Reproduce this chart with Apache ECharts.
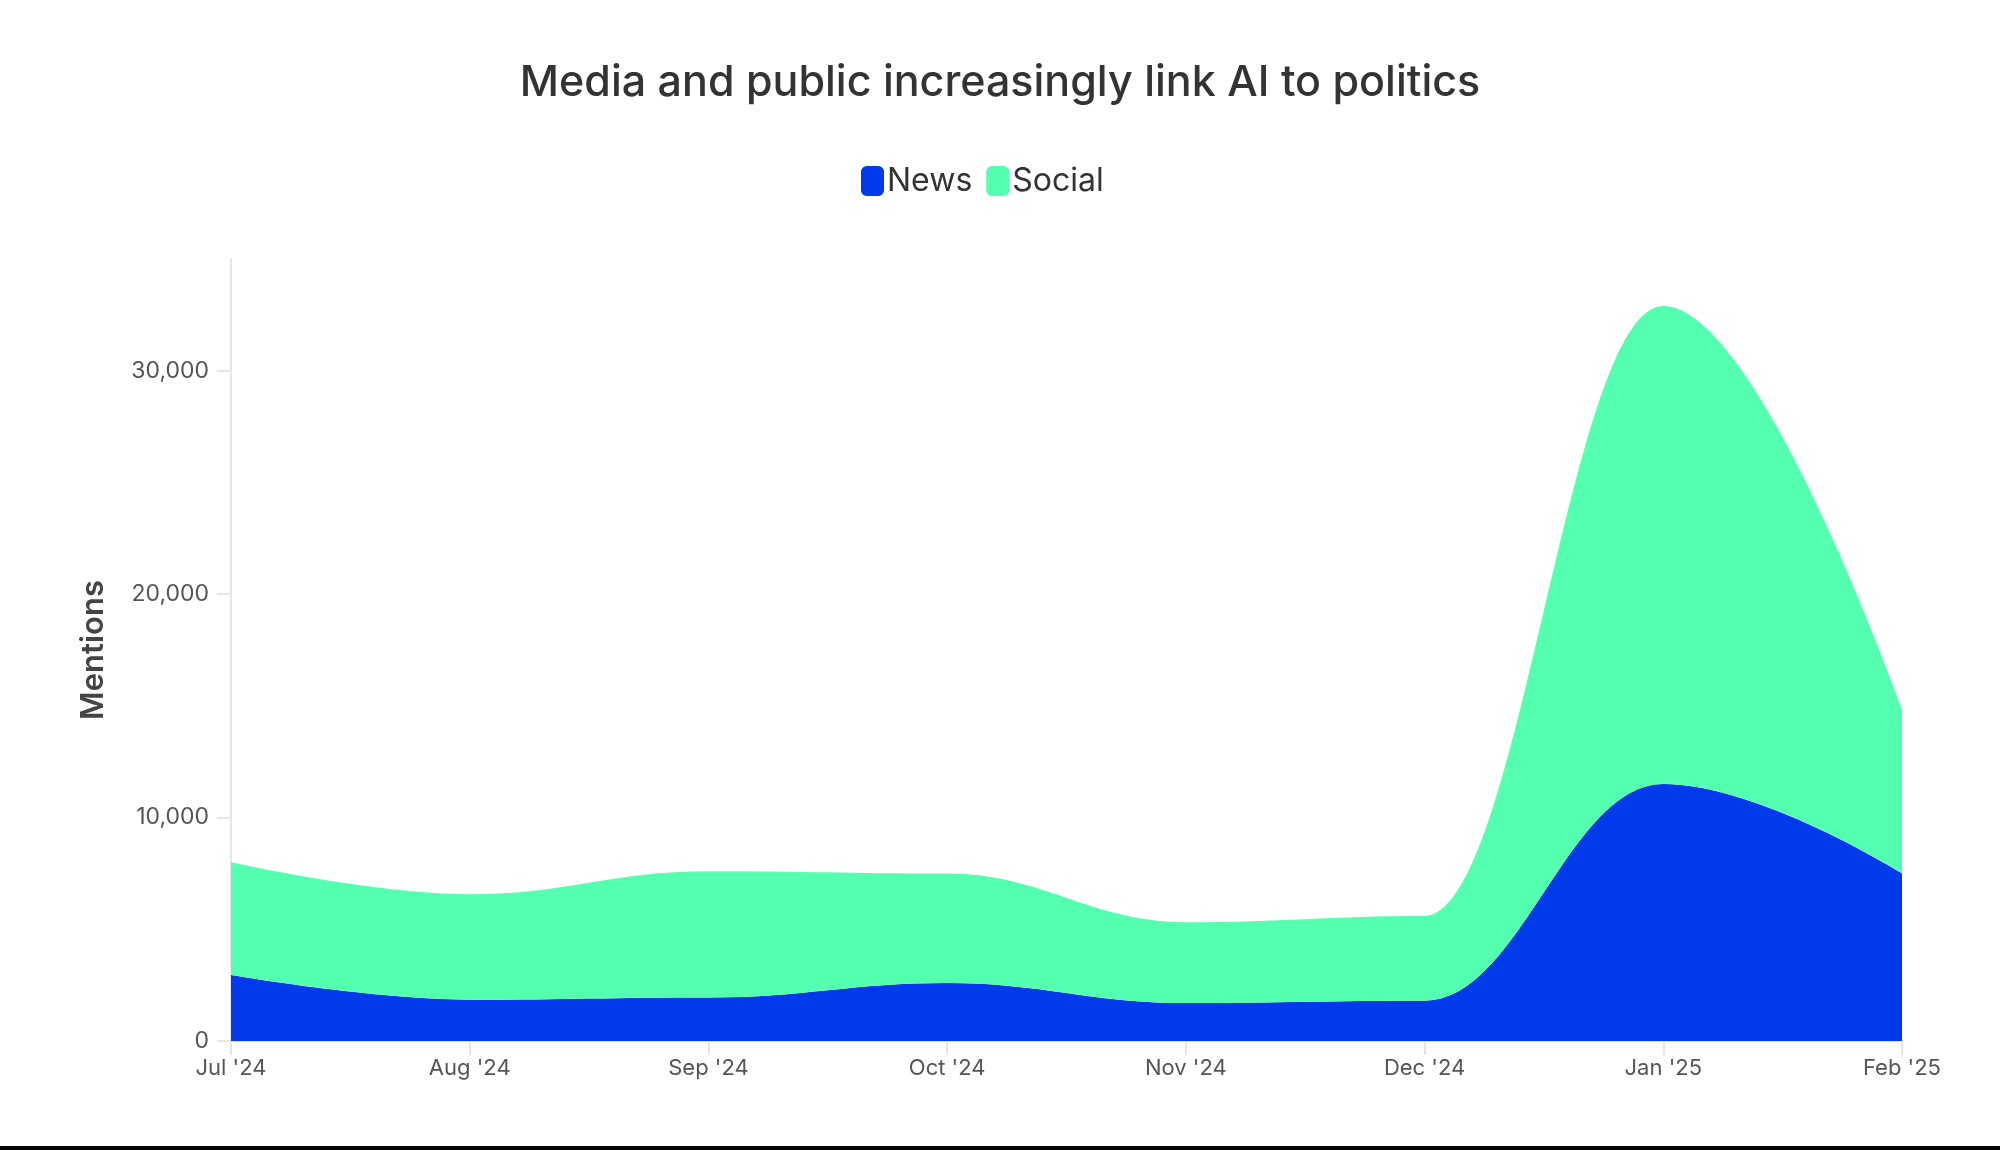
<!DOCTYPE html>
<html>
<head>
<meta charset="utf-8">
<script src="https://cdn.jsdelivr.net/npm/echarts@6/dist/echarts.min.js"></script>
<style>
  html, body { margin: 0; padding: 0; background: #fff; }
  #chart { width: 2000px; height: 1150px; }
</style>
</head>
<body>
<div id="chart"></div>
<script>
// months on the x axis
var months = ["Jul '24", "Aug '24", "Sep '24", "Oct '24", "Nov '24", "Dec '24", "Jan '25", "Feb '25"];
// mentions per month
var news = [2950, 1850, 1950, 2600, 1700, 1800, 11500, 7500];
var social = [5050, 4720, 5650, 4900, 3620, 3800, 21400, 7350];
// labelled y ticks
var yTicks = [0, 10000, 20000, 30000];

var chart = echarts.init(document.getElementById('chart'));
var font = 'Inter, "Noto Sans", sans-serif';

chart.setOption({
  backgroundColor: '#fff',
  animation: false,
  title: {
    text: 'Media and public increasingly link AI to politics',
    left: 'center',
    top: 57,
    textStyle: { fontFamily: font, fontSize: 43, fontWeight: 500, color: '#333' }
  },
  legend: {
    top: 160,
    left: 856,
    icon: 'roundRect',
    itemWidth: 23,
    itemHeight: 30,
    itemGap: 14,
    textStyle: { fontFamily: font, fontSize: 32, color: '#333', padding: [0, 0, 0, -2] },
    data: ['News', 'Social']
  },
  grid: { left: 231, right: 98, top: 259, bottom: 109 },
  xAxis: {
    type: 'category',
    data: months,
    boundaryGap: false,
    axisLine: { show: true, lineStyle: { color: '#e6e6e6', width: 2 } },
    axisTick: { show: true, length: 14, lineStyle: { color: '#e6e6e6', width: 2 } },
    axisLabel: { fontFamily: font, fontSize: 22, color: '#555', margin: 16 }
  },
  yAxis: {
    type: 'value',
    min: 0,
    max: 35000,
    interval: 10000,
    name: 'Mentions',
    nameLocation: 'middle',
    nameGap: 122,
    nameTextStyle: { fontFamily: font, fontSize: 31, fontWeight: 600, color: '#444' },
    splitLine: { show: false },
    axisLine: { show: true, lineStyle: { color: '#e6e6e6', width: 2 } },
    axisTick: { show: true, length: 14, customValues: yTicks, lineStyle: { color: '#e6e6e6', width: 2 } },
    axisLabel: {
      fontFamily: font, fontSize: 23, color: '#555', margin: 22,
      customValues: yTicks,
      formatter: function (v) { return v.toLocaleString('en-US'); }
    }
  },
  series: [
    {
      name: 'News',
      type: 'line',
      stack: 'total',
      data: news,
      smooth: 0.4,
      smoothMonotone: 'x',
      symbol: 'none',
      color: '#003aea',
      lineStyle: { width: 0 },
      areaStyle: { color: '#003aea', opacity: 1 }
    },
    {
      name: 'Social',
      type: 'line',
      stack: 'total',
      data: social,
      smooth: 0.4,
      smoothMonotone: 'x',
      symbol: 'none',
      color: '#55ffb0',
      lineStyle: { width: 0 },
      areaStyle: { color: '#55ffb0', opacity: 1 }
    }
  ],
  graphic: [
    { type: 'rect', left: 0, bottom: 0, shape: { width: 2000, height: 4 }, style: { fill: '#000' } }
  ]
});
</script>
</body>
</html>
